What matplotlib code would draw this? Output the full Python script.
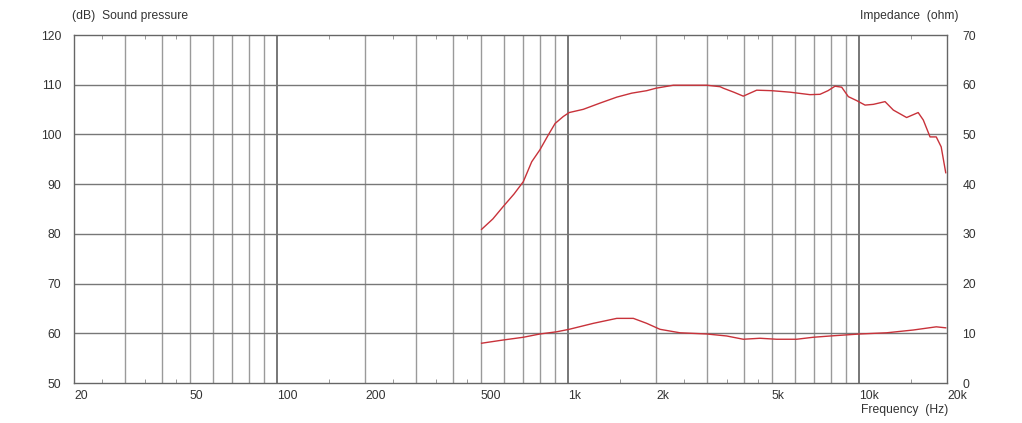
import matplotlib

matplotlib.use("Agg")
import matplotlib.pyplot as plt
import numpy as np
from matplotlib.ticker import FixedLocator, NullFormatter

# sound pressure curve (Hz, dB)
spl_freq = [503, 550, 597, 650, 700, 748, 798, 853, 900, 960, 1006, 1125, 1284,
            1466, 1650, 1858, 2001, 2295, 2833, 2987, 3321, 3406, 3700, 3990,
            4436, 4993, 5774, 6763, 7321, 7800, 8245, 8693, 9162, 9791, 10457,
            11170, 12250, 13080, 14530, 15920, 16580, 17490, 18370, 19100, 19800]
spl_db = [80.9, 83.0, 85.5, 88.0, 90.5, 94.5, 96.9, 99.9, 102.2, 103.6, 104.4,
          105.05, 106.3, 107.5, 108.3, 108.8, 109.3, 109.9, 109.9, 109.9, 109.6,
          109.3, 108.5, 107.7, 108.9, 108.8, 108.5, 108.0, 108.07, 108.8, 109.7,
          109.5, 107.6, 106.8, 105.9, 106.05, 106.6, 104.9, 103.4, 104.4, 102.9,
          99.5, 99.5, 97.5, 92.3]

# impedance curve (Hz, ohm)
imp_freq = [503, 597, 700, 798, 911, 1006, 1218, 1466, 1672, 1858, 2064, 2418,
            2987, 3497, 3990, 4554, 5197, 6084, 6938, 8127, 10046, 12410,
            15320, 18370, 19800]
imp_ohm = [8.0, 8.65, 9.2, 9.86, 10.3, 10.8, 12.0, 13.0, 13.0, 12.0, 10.8, 10.1,
           9.86, 9.46, 8.8, 9.0, 8.8, 8.8, 9.2, 9.5, 9.86, 10.1, 10.66, 11.3, 11.1]

freq_ticks = [20, 50, 100, 200, 500, 1000, 2000, 5000, 10000, 20000]
freq_labels = ["20", "50", "100", "200", "500", "1k", "2k", "5k", "10k", "20k"]
db_ticks = [50, 60, 70, 80, 90, 100, 110, 120]
ohm_ticks = [0, 10, 20, 30, 40, 50, 60, 70]
minor_freqs = [25, 35, 45, 150, 250, 350, 450, 1500, 2500, 3500, 4500, 15000]

RED = "#c8323a"
TXT = "#333333"
plt.rcParams["font.family"] = ["Liberation Sans", "DejaVu Sans"]

fig = plt.figure(figsize=(10.22, 4.23), dpi=100)
ax = fig.add_axes([74 / 1022, 1 - 383 / 423, 873 / 1022, 348 / 423])
ax.set_xscale("log")
ax.set_xlim(20, 20000)
ax.set_ylim(50, 120)

# grid: every 1..9 x decade, decades darker
for d in [10, 100, 1000, 10000]:
    for m in range(1, 10):
        f = m * d
        if 20 < f < 20000:
            dec = m == 1
            ax.axvline(f, color="#606060" if dec else "#9a9a9a",
                       lw=1.2 if dec else 1.0, zorder=1)
for v in db_ticks[1:-1]:
    ax.axhline(v, color="#777777", lw=1.0, zorder=1)

for s in ax.spines.values():
    s.set_color("#666666")
    s.set_linewidth(1.0)

ax.xaxis.set_major_locator(FixedLocator(freq_ticks))
ax.set_xticklabels(freq_labels, ha="left")
ax.xaxis.set_minor_locator(FixedLocator(minor_freqs))
ax.xaxis.set_minor_formatter(NullFormatter())
ax.tick_params(axis="x", which="major", length=0, pad=5, labelsize=8.7, labelcolor=TXT)
ax.tick_params(axis="x", which="minor", direction="in", length=3, top=True,
               color="#888888")
ax.set_yticks(db_ticks)
ax.tick_params(axis="y", length=0, pad=9, labelsize=8.7, labelcolor=TXT)

ax.plot(spl_freq, spl_db, color=RED, lw=1.0, zorder=3)

ax2 = ax.twinx()
ax2.set_ylim(0, 70)
ax2.set_yticks(ohm_ticks)
ax2.tick_params(axis="y", length=0, pad=11, labelsize=8.7, labelcolor=TXT)
for s in ax2.spines.values():
    s.set_visible(False)
ax2.plot(imp_freq, imp_ohm, color=RED, lw=1.0, zorder=3)

fig.text(72 / 1022, 1 - 16 / 423, "(dB)  Sound pressure", fontsize=8.7, color=TXT,
         ha="left", va="center")
fig.text(958 / 1022, 1 - 16 / 423, "Impedance  (ohm)", fontsize=8.7, color=TXT,
         ha="right", va="center")
fig.text(948 / 1022, 1 - 410 / 423, "Frequency  (Hz)", fontsize=8.7, color=TXT,
         ha="right", va="center")

fig.savefig("out.png", dpi=100, facecolor="white")
